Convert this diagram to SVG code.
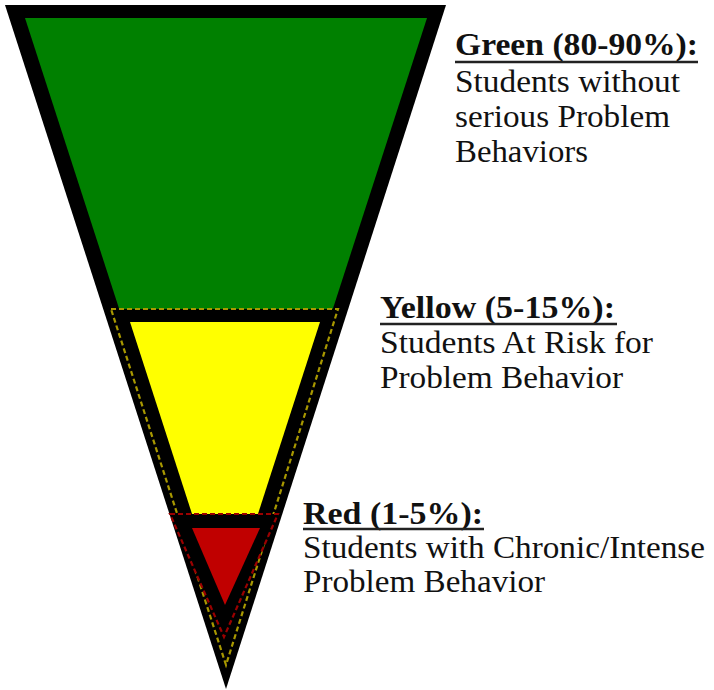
<svg xmlns="http://www.w3.org/2000/svg" width="714" height="690" viewBox="0 0 714 690">
<style>
.lbl{font-family:"Liberation Serif",Tinos,"Times New Roman",Times,serif;font-size:32px;fill:#111}
.hd{font-weight:bold}
.ul{stroke:#222;stroke-width:2.5}
</style>
<rect width="714" height="690" fill="#fff"/>
<g id="outer">
<polygon points="5,5 446,5 226,689" fill="#000"/>
<polygon points="25,18 427,18 226,639" fill="#008000"/>
</g>
<g id="yellow-tier">
<polygon points="111,309 338,309 226,665" fill="#000" stroke="#a89800" stroke-width="2.2" stroke-dasharray="5,3"/>
<polygon points="130,322 320,322 225,616" fill="#ffff00"/>
</g>
<g id="red-tier">
<polygon points="170,514 278,514 224,637" fill="#000" stroke="#9a0000" stroke-width="2.2" stroke-dasharray="5,3"/>
<polygon points="192,528 260,528 225,605" fill="#c00000"/>
</g>
<g id="green-label" class="lbl">
<text class="hd" x="455" y="55" textLength="243" lengthAdjust="spacingAndGlyphs">Green (80-90%):</text>
<line class="ul" x1="455" y1="62" x2="698" y2="62"/>
<text x="455" y="92" textLength="225" lengthAdjust="spacingAndGlyphs">Students without</text>
<text x="455" y="127" textLength="215" lengthAdjust="spacingAndGlyphs">serious Problem</text>
<text x="455" y="162" textLength="133" lengthAdjust="spacingAndGlyphs">Behaviors</text>
</g>
<g id="yellow-label" class="lbl">
<text class="hd" x="380" y="318" textLength="235" lengthAdjust="spacingAndGlyphs">Yellow (5-15%):</text>
<line class="ul" x1="380" y1="324" x2="617" y2="324"/>
<text x="380" y="353" textLength="273" lengthAdjust="spacingAndGlyphs">Students At Risk for</text>
<text x="380" y="388" textLength="243" lengthAdjust="spacingAndGlyphs">Problem Behavior</text>
</g>
<g id="red-label" class="lbl">
<text class="hd" x="303" y="524" textLength="180" lengthAdjust="spacingAndGlyphs">Red (1-5%):</text>
<line class="ul" x1="303" y1="529" x2="484" y2="529"/>
<text x="303" y="558" textLength="402" lengthAdjust="spacingAndGlyphs">Students with Chronic/Intense</text>
<text x="303" y="592" textLength="242" lengthAdjust="spacingAndGlyphs">Problem Behavior</text>
</g>
</svg>
